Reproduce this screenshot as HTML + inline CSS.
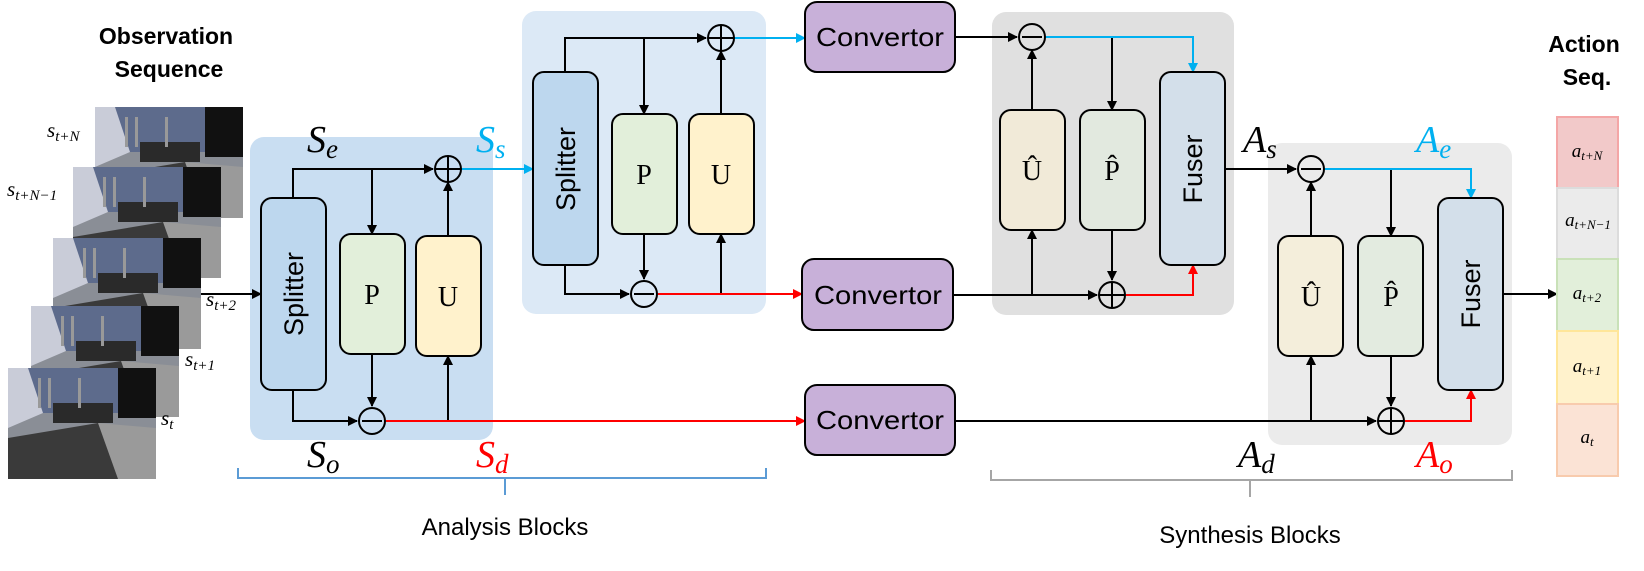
<!DOCTYPE html>
<html><head><meta charset="utf-8"><style>
html,body{margin:0;padding:0;background:#fff;}
svg{display:block;}
.m{font-family:"Liberation Serif",serif;font-style:italic;}
.s{font-family:"Liberation Sans","DejaVu Sans",sans-serif;}
.r{font-family:"Liberation Serif",serif;}
</style></head><body>
<svg width="1644" height="571" viewBox="0 0 1644 571" xmlns="http://www.w3.org/2000/svg">
<defs>
<marker id="ak" markerWidth="10" markerHeight="10" refX="9" refY="5" orient="auto" markerUnits="userSpaceOnUse"><path d="M0,0 L10,5 L0,10 z" fill="#000"/></marker>
<marker id="ab" markerWidth="10" markerHeight="10" refX="9" refY="5" orient="auto" markerUnits="userSpaceOnUse"><path d="M0,0 L10,5 L0,10 z" fill="#00b0f0"/></marker>
<marker id="ar" markerWidth="10" markerHeight="10" refX="9" refY="5" orient="auto" markerUnits="userSpaceOnUse"><path d="M0,0 L10,5 L0,10 z" fill="#ff0000"/></marker>
<g id="frame">
<rect x="0" y="0" width="148" height="111" fill="#8a8e96"/>
<rect x="0" y="0" width="148" height="45" fill="#5d6b8c"/>
<rect x="110" y="0" width="38" height="50" fill="#111"/>
<polygon points="0,0 20,0 35,45 0,60" fill="#c9ccd8"/>
<rect x="45" y="35" width="60" height="20" fill="#2a2a2a"/>
<polygon points="0,70 90,55 148,75 148,111 0,111" fill="#3a3a3a"/>
<polygon points="90,55 148,60 148,111 110,111" fill="#9a9a9a"/>
<rect x="30" y="10" width="3" height="30" fill="#999"/><rect x="40" y="10" width="3" height="30" fill="#999"/><rect x="70" y="10" width="3" height="30" fill="#999"/>
</g>
</defs>

<text x="166" y="44" text-anchor="middle" class="s" font-weight="bold" font-size="23">Observation</text>
<text x="169" y="77" text-anchor="middle" class="s" font-weight="bold" font-size="23">Sequence</text>
<text x="1584" y="52" text-anchor="middle" class="s" font-weight="bold" font-size="23">Action</text>
<text x="1587" y="85" text-anchor="middle" class="s" font-weight="bold" font-size="23">Seq.</text>

<use href="#frame" x="95" y="107"/>
<use href="#frame" x="73" y="167"/>
<use href="#frame" x="53" y="238"/>
<use href="#frame" x="31" y="306"/>
<use href="#frame" x="8" y="368"/>
<g class="m" font-size="21">
<text x="47" y="137">s<tspan font-size="15" dy="4">t+N</tspan></text>
<text x="7" y="196">s<tspan font-size="15" dy="4">t+N−1</tspan></text>
<text x="206" y="306">s<tspan font-size="15" dy="4">t+2</tspan></text>
<text x="185" y="366">s<tspan font-size="15" dy="4">t+1</tspan></text>
<text x="161" y="425">s<tspan font-size="15" dy="4">t</tspan></text>
</g>

<rect x="250" y="137" width="243" height="303" rx="14" fill="#c9def2"/>
<rect x="522" y="11" width="244" height="303" rx="14" fill="#dce9f6"/>
<rect x="992" y="12" width="242" height="303" rx="14" fill="#e0e0e0"/>
<rect x="1268" y="143" width="244" height="302" rx="14" fill="#ebebeb"/>

<g stroke="#000" stroke-width="2" fill="none">
<path d="M293,198 V169 H433" marker-end="url(#ak)"/>
<path d="M372,169 V234" marker-end="url(#ak)"/>
<path d="M448,236 V182" marker-end="url(#ak)"/>
<path d="M293,390 V421 H357" marker-end="url(#ak)"/>
<path d="M372,354 V406" marker-end="url(#ak)"/>
<path d="M448,421 V356" marker-end="url(#ak)"/>
<path d="M201,294 H261" marker-end="url(#ak)"/>
<path d="M565,72 V38 H706" marker-end="url(#ak)"/>
<path d="M644,38 V114" marker-end="url(#ak)"/>
<path d="M721,114 V51" marker-end="url(#ak)"/>
<path d="M565,265 V294 H629" marker-end="url(#ak)"/>
<path d="M644,234 V279" marker-end="url(#ak)"/>
<path d="M721,294 V234" marker-end="url(#ak)"/>
<path d="M955,37 H1017" marker-end="url(#ak)"/>
<path d="M1032,110 V50" marker-end="url(#ak)"/>
<path d="M1112,37 V110" marker-end="url(#ak)"/>
<path d="M953,295 H1097" marker-end="url(#ak)"/>
<path d="M1032,295 V230" marker-end="url(#ak)"/>
<path d="M1112,230 V280" marker-end="url(#ak)"/>
<path d="M1225,169 H1296" marker-end="url(#ak)"/>
<path d="M955,421 H1376" marker-end="url(#ak)"/>
<path d="M1311,421 V356" marker-end="url(#ak)"/>
<path d="M1311,236 V182" marker-end="url(#ak)"/>
<path d="M1391,169 V236" marker-end="url(#ak)"/>
<path d="M1391,356 V406" marker-end="url(#ak)"/>
<path d="M1503,294 H1557" marker-end="url(#ak)"/>
</g>
<g stroke="#00b0f0" stroke-width="2" fill="none">
<path d="M461,169 H533" marker-end="url(#ab)"/>
<path d="M734,38 H805" marker-end="url(#ab)"/>
<path d="M1046,37 H1193 V72" marker-end="url(#ab)"/>
<path d="M1325,169 H1471 V198" marker-end="url(#ab)"/>
</g>
<g stroke="#ff0000" stroke-width="2" fill="none">
<path d="M386,421 H805" marker-end="url(#ar)"/>
<path d="M658,294 H802" marker-end="url(#ar)"/>
<path d="M1126,295 H1193 V265" marker-end="url(#ar)"/>
<path d="M1405,421 H1471 V390" marker-end="url(#ar)"/>
</g>

<g stroke="#000" stroke-width="2">
<rect x="261" y="198" width="65" height="192" rx="11" fill="#bdd7ee"/>
<rect x="340" y="234" width="65" height="120" rx="11" fill="#e2efda"/>
<rect x="416" y="236" width="65" height="120" rx="11" fill="#fff2cc"/>
<rect x="533" y="72" width="65" height="193" rx="11" fill="#bdd7ee"/>
<rect x="612" y="114" width="65" height="120" rx="11" fill="#e2efda"/>
<rect x="689" y="114" width="65" height="120" rx="11" fill="#fff2cc"/>
<rect x="805" y="2" width="150" height="70" rx="12" fill="#c8b0d9"/>
<rect x="802" y="259" width="151" height="71" rx="12" fill="#c8b0d9"/>
<rect x="805" y="385" width="150" height="70" rx="12" fill="#c8b0d9"/>
<rect x="1000" y="110" width="65" height="120" rx="11" fill="#f1ead8"/>
<rect x="1080" y="110" width="65" height="120" rx="11" fill="#e2e9df"/>
<rect x="1160" y="72" width="65" height="193" rx="11" fill="#d3dfea"/>
<rect x="1278" y="236" width="65" height="120" rx="11" fill="#f4eedb"/>
<rect x="1358" y="236" width="65" height="120" rx="11" fill="#e3ebe0"/>
<rect x="1438" y="198" width="65" height="192" rx="11" fill="#d3dfea"/>
</g>

<g stroke="#000" stroke-width="2" fill="none">
<circle cx="448" cy="169" r="13"/><path d="M435,169 H461 M448,156 V182"/>
<circle cx="372" cy="421" r="13"/><path d="M362,421 H382"/>
<circle cx="721" cy="38" r="13"/><path d="M708,38 H734 M721,25 V51"/>
<circle cx="644" cy="294" r="13"/><path d="M634,294 H654"/>
<circle cx="1032" cy="37" r="13"/><path d="M1022,37 H1042"/>
<circle cx="1112" cy="295" r="13"/><path d="M1099,295 H1125 M1112,282 V308"/>
<circle cx="1311" cy="169" r="13"/><path d="M1301,169 H1321"/>
<circle cx="1391" cy="421" r="13"/><path d="M1378,421 H1404 M1391,408 V434"/>
</g>

<g class="s" font-size="27" fill="#000">
<text transform="translate(303,294) rotate(-90)" text-anchor="middle">Splitter</text>
<text transform="translate(575,169) rotate(-90)" text-anchor="middle">Splitter</text>
<text transform="translate(1202,169) rotate(-90)" text-anchor="middle">Fuser</text>
<text transform="translate(1480,294) rotate(-90)" text-anchor="middle">Fuser</text>
<text x="880" y="46" text-anchor="middle" font-size="26" textLength="128" lengthAdjust="spacingAndGlyphs">Convertor</text>
<text x="878" y="304" text-anchor="middle" font-size="26" textLength="128" lengthAdjust="spacingAndGlyphs">Convertor</text>
<text x="880" y="429" text-anchor="middle" font-size="26" textLength="128" lengthAdjust="spacingAndGlyphs">Convertor</text>
</g>
<g class="r" font-size="28" text-anchor="middle">
<text x="372" y="304">P</text><text x="448" y="306">U</text>
<text x="644" y="184">P</text><text x="721" y="184">U</text>
<text x="1032" y="180">Û</text><text x="1112" y="180">P̂</text>
<text x="1311" y="306">Û</text><text x="1391" y="306">P̂</text>
</g>

<g class="m" font-size="38">
<text x="307" y="152">S<tspan font-size="27" dy="6">e</tspan></text>
<text x="307" y="467">S<tspan font-size="27" dy="6">o</tspan></text>
<text x="476" y="152" fill="#00b0f0">S<tspan font-size="27" dy="6">s</tspan></text>
<text x="476" y="467" fill="#ff0000">S<tspan font-size="27" dy="6">d</tspan></text>
<text x="1243" y="152">A<tspan font-size="27" dy="6">s</tspan></text>
<text x="1416" y="152" fill="#00b0f0">A<tspan font-size="27" dy="6">e</tspan></text>
<text x="1238" y="467">A<tspan font-size="27" dy="6">d</tspan></text>
<text x="1416" y="467" fill="#ff0000">A<tspan font-size="27" dy="6">o</tspan></text>
</g>

<path d="M238,468 V478 H766 V468 M505,478 V495" stroke="#5b9bd5" stroke-width="2" fill="none"/>
<path d="M991,470 V480 H1512 V470 M1250,480 V497" stroke="#a6a6a6" stroke-width="2" fill="none"/>
<text x="505" y="535" text-anchor="middle" class="s" font-size="24">Analysis Blocks</text>
<text x="1250" y="543" text-anchor="middle" class="s" font-size="24">Synthesis Blocks</text>

<g stroke-width="2">
<rect x="1557" y="117" width="61" height="71" fill="#f2c9c9" stroke="#f4a6a6"/>
<rect x="1557" y="188" width="61" height="71" fill="#ebebeb" stroke="#dcdcdc"/>
<rect x="1557" y="259" width="61" height="72" fill="#e2efda" stroke="#c9e1b8"/>
<rect x="1557" y="331" width="61" height="73" fill="#fff2cc" stroke="#ffe699"/>
<rect x="1557" y="404" width="61" height="72" fill="#fbe3d5" stroke="#f8cbad"/>
</g>
<g class="m" font-size="19" text-anchor="middle">
<text x="1587" y="157">a<tspan font-size="13" dy="3">t+N</tspan></text>
<text x="1588" y="226">a<tspan font-size="13" dy="3">t+N−1</tspan></text>
<text x="1587" y="299">a<tspan font-size="13" dy="3">t+2</tspan></text>
<text x="1587" y="372">a<tspan font-size="13" dy="3">t+1</tspan></text>
<text x="1587" y="443">a<tspan font-size="13" dy="3">t</tspan></text>
</g>
</svg>
</body></html>
